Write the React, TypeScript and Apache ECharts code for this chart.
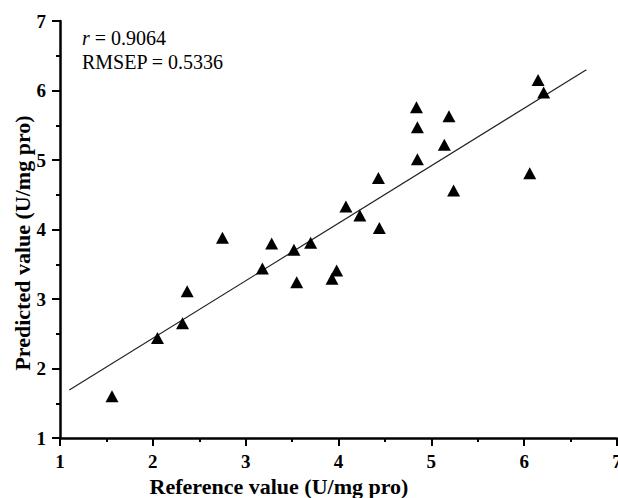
import React, { useEffect, useRef } from "react";
import * as echarts from "echarts";

const referenceValues = [
  1.56, 2.05, 2.32, 2.37, 2.75, 3.18, 3.28, 3.52, 3.55, 3.70, 3.93, 3.98, 4.08,
  4.23, 4.43, 4.44, 4.84, 4.85, 4.85, 5.14, 5.19, 5.24, 6.06, 6.15, 6.21,
];
const predictedValues = [
  1.60, 2.44, 2.65, 3.11, 3.88, 3.44, 3.80, 3.71, 3.24, 3.81, 3.29, 3.41, 4.33,
  4.20, 4.74, 4.02, 5.76, 5.47, 5.01, 5.22, 5.63, 4.56, 4.81, 6.15, 5.97,
];
const fitLineX = [1.1, 6.67];
const fitLineY = [1.69, 6.3];
const axisTicks = [1, 2, 3, 4, 5, 6, 7];
const rValue = "0.9064";
const rmsepValue = "0.5336";
const xTitle = "Reference value (U/mg pro)";
const yTitle = "Predicted value (U/mg pro)";

const FONT = "Liberation Serif";

function makeAxis() {
  return {
    type: "value",
    min: axisTicks[0],
    max: axisTicks[axisTicks.length - 1],
    interval: 1,
    axisLine: { show: true, onZero: false, lineStyle: { color: "#000000", width: 2.5 } },
    axisTick: { show: true, inside: false, length: 8, lineStyle: { color: "#000000", width: 2 } },
    minorTick: { show: true, splitNumber: 2, length: 4, lineStyle: { color: "#000000", width: 2 } },
    splitLine: { show: false },
    minorSplitLine: { show: false },
    axisLabel: {
      show: true,
      color: "#000000",
      fontFamily: FONT,
      fontWeight: "bold",
      fontSize: 19,
      margin: 14,
      formatter: "{b|{value}}",
      rich: {
        b: { fontFamily: FONT, fontWeight: "bold", fontSize: 19, color: "#000000" },
      },
    },
  };
}

export default function App() {
  const ref = useRef<HTMLDivElement>(null);
  useEffect(() => {
    if (!ref.current) return;
    const chart = echarts.init(ref.current, null, { renderer: "svg" });
    chart.setOption({
      animation: false,
      backgroundColor: "#fff",
      grid: {
        left: 60,
        right: 1,
        top: 21,
        bottom: 60,
        containLabel: false,
        outerBoundsMode: "none",
      },
      xAxis: makeAxis(),
      yAxis: makeAxis(),
      graphic: [
        {
          type: "text",
          left: 82,
          top: 28,
          style: {
            text: "{i|r} = " + rValue,
            fill: "#000",
            font: `20px ${FONT}`,
            rich: { i: { fontStyle: "italic", fontSize: 20, fontFamily: FONT, fill: "#000" } },
          },
        },
        {
          type: "text",
          left: 82,
          top: 52,
          style: {
            text: "RMSEP = " + rmsepValue,
            fill: "#000",
            font: `20px ${FONT}`,
          },
        },
        {
          type: "text",
          x: 279,
          y: 486,
          style: {
            text: xTitle,
            fill: "#000",
            font: `bold 22px ${FONT}`,
            align: "center",
            verticalAlign: "middle",
          },
        },
        {
          type: "text",
          x: 22,
          y: 243,
          rotation: Math.PI / 2,
          style: {
            text: yTitle,
            fill: "#000",
            font: `bold 22px ${FONT}`,
            align: "center",
            verticalAlign: "middle",
          },
        },
      ],
      series: [
        {
          type: "line",
          data: fitLineX.map((x, i) => [x, fitLineY[i]]),
          symbol: "none",
          lineStyle: { color: "#222", width: 1.2 },
          z: 1,
        },
        {
          type: "scatter",
          data: referenceValues.map((x, i) => [x, predictedValues[i]]),
          symbol: "triangle",
          symbolSize: [13, 12],
          itemStyle: { color: "#000", opacity: 1 },
          z: 2,
        },
      ],
    });
    return () => chart.dispose();
  }, []);
  return (
    <div
      ref={ref}
      style={{ position: "fixed", left: 0, top: 0, width: 618, height: 498 }}
    />
  );
}
